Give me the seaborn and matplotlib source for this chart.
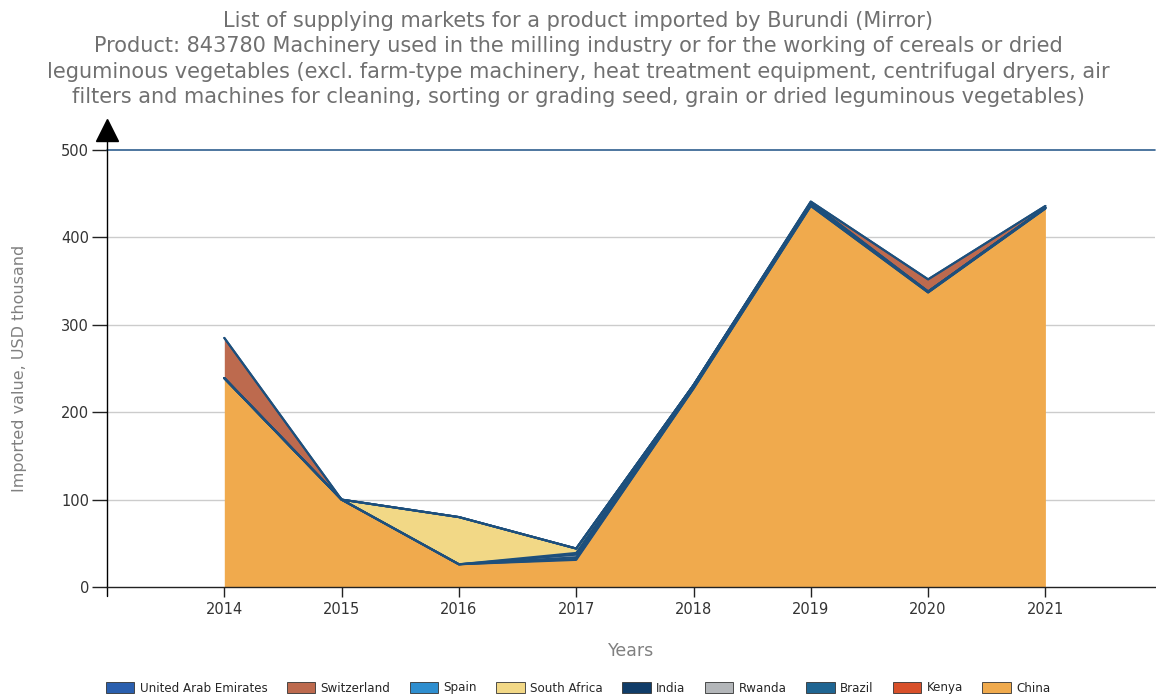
"""
Stacked area chart: supplying markets for product 843780 imported by Burundi (mirror data).
"""

import numpy as np
import pandas as pd
import matplotlib
matplotlib.use("Agg")
import matplotlib.pyplot as plt
from matplotlib.patches import Patch
import seaborn as sns


# =============================================
# 1. DATA (USD thousand)
# =============================================

years = [2014, 2015, 2016, 2017, 2018, 2019, 2020, 2021]

# legend order
countries = ['United Arab Emirates', 'Switzerland', 'Spain', 'South Africa',
             'India', 'Rwanda', 'Brazil', 'Kenya', 'China']

uae = [0, 0, 0, 0, 0, 0, 0, 0]
switzerland = [46, 0, 0, 0, 0, 1, 14, 2]
spain = [0, 0, 0, 0, 0, 0, 0, 0]
south_africa = [0, 0, 54, 5, 0, 1, 0, 0]
india = [0, 0, 0, 2, 1, 1, 0, 0]
rwanda = [0, 0, 0, 3, 1, 1, 0, 0]
brazil = [0, 0, 0, 2, 2, 1, 1, 1]
kenya = [0, 0, 0, 1, 0, 0, 0, 0]
china = [239, 100, 26, 31, 227, 436, 337, 433]

colors = {
    'United Arab Emirates': '#2a5fae',
    'Switzerland': '#bd6a4e',
    'Spain': '#2e8ecf',
    'South Africa': '#f2d886',
    'India': '#103c68',
    'Rwanda': '#b3b6b9',
    'Brazil': '#1f6592',
    'Kenya': '#d8502a',
    'China': '#f0aa4d',
}

EDGE = '#1d4f7c'


# =============================================
# 2. PLOT
# =============================================

sns.set_style("white")
plt.rcParams['font.family'] = ['DejaVu Sans']

df = pd.DataFrame({
    'United Arab Emirates': uae, 'Switzerland': switzerland, 'Spain': spain,
    'South Africa': south_africa, 'India': india, 'Rwanda': rwanda,
    'Brazil': brazil, 'Kenya': kenya, 'China': china,
}, index=years)

# stack from bottom: China first, legend order reversed
stack_order = countries[::-1]

fig = plt.figure(figsize=(11.56, 6.96), dpi=100)
ax = fig.add_axes([107 / 1156, 1 - 587 / 696, (1155 - 107) / 1156, 437 / 696])

ax.stackplot(years, [df[c].values for c in stack_order],
             colors=[colors[c] for c in stack_order], linewidth=0)

# dark outline on top of every layer
cum = df[stack_order].cumsum(axis=1)
for c in stack_order:
    edge = pd.DataFrame({'year': years, 'value': cum[c].values})
    sns.lineplot(data=edge, x='year', y='value', ax=ax, color=EDGE,
                 linewidth=1.5, legend=False)

ax.set_xlim(2013, 2013 + (1155 - 107) / 117.3)
ax.set_ylim(0, 500)
ax.set_xticks(years)
ax.set_xticklabels([str(y) for y in years])
ax.set_yticks([0, 100, 200, 300, 400, 500])

# grid lines
for v in [100, 200, 300, 400]:
    ax.axhline(v, color='#cccccc', linewidth=1, zorder=0)
ax.axhline(500, color='#2f5f8f', linewidth=1.2, clip_on=False)

for s in ['top', 'right', 'left']:
    ax.spines[s].set_visible(False)
ax.spines['bottom'].set_color('#222222')
ax.spines['bottom'].set_linewidth(1)

# y axis with arrow
ax.plot([0, 0], [0, 1.045], transform=ax.transAxes, color='black',
        linewidth=1, clip_on=False)
ax.plot([0], [1.045], transform=ax.transAxes, marker='^', markersize=16,
        color='black', clip_on=False)

# tick at axis origin
ax.plot([0, 0], [0, -0.02], transform=ax.transAxes, color='black',
        linewidth=1, clip_on=False)

ax.tick_params(axis='y', direction='out', length=11, width=1, color='#222222',
               labelsize=10.5, labelcolor='#333333', pad=2, left=True)
ax.tick_params(axis='x', direction='out', length=7, width=1, color='#222222',
               labelsize=10.5, labelcolor='#333333', pad=4, bottom=True)

ax.set_xlabel('Years', fontsize=12.5, color='#808080', labelpad=18)
ax.set_ylabel('Imported value, USD thousand', fontsize=11.5, color='#808080',
              labelpad=24)

title = ("List of supplying markets for a product imported by Burundi (Mirror)\n"
         "Product: 843780 Machinery used in the milling industry or for the working of cereals or dried\n"
         "leguminous vegetables (excl. farm-type machinery, heat treatment equipment, centrifugal dryers, air\n"
         "filters and machines for cleaning, sorting or grading seed, grain or dried leguminous vegetables)")
fig.text(0.5, 1 - 11 / 696, title, ha='center', va='top', fontsize=15,
         color='#707070', linespacing=1.33)

handles = [Patch(facecolor=colors[c], edgecolor='#333333', linewidth=0.6, label=c)
           for c in countries]
fig.legend(handles=handles, loc='center', bbox_to_anchor=(0.5, 1 - 688 / 696),
           ncol=len(countries), frameon=False,
           handlelength=2.4, handleheight=1.0, handletextpad=0.45,
           columnspacing=1.6, prop={'family': ['DejaVu Sans'], 'size': 8.6})

fig.savefig('out.png', dpi=100)
plt.close(fig)
